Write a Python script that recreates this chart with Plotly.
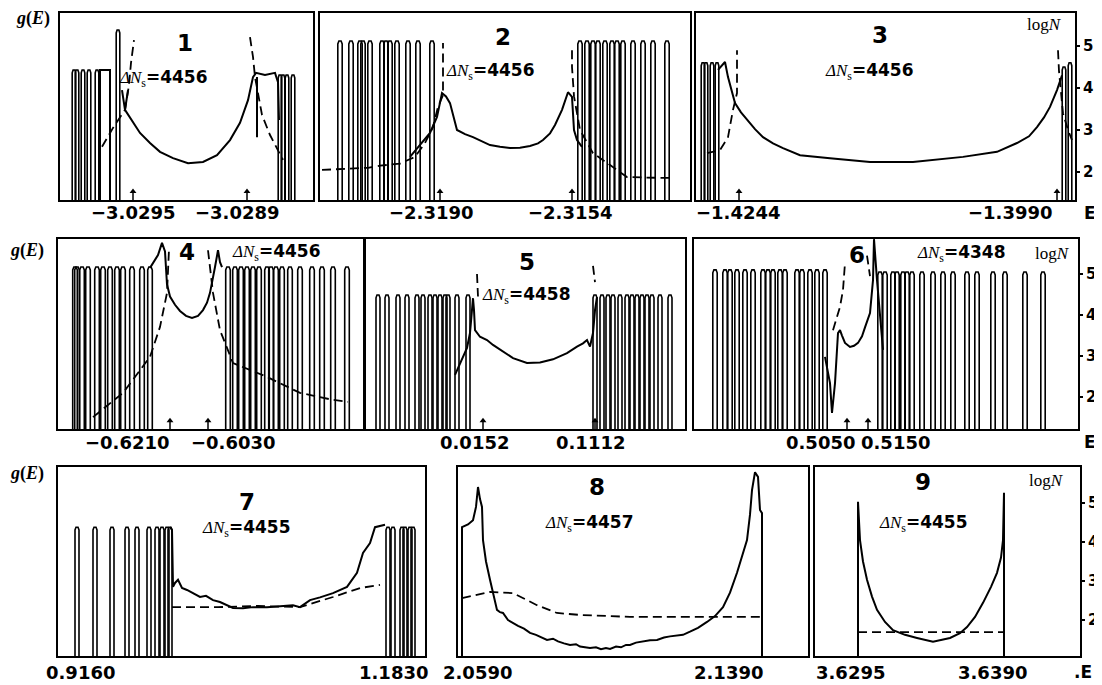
import plotly.graph_objects as go

W, H = 1102, 685
PAGE_OFF = 8  # default page margin of the html body

# ---------------- data (x: channel units measured from each panel's left edge, y: log N) -------------
# panel 1
p1_spk_x = [14, 17, 23, 29, 37, 58, 220, 223, 227, 233]
p1_spk_h = [4.43, 4.43, 4.43, 4.43, 4.43, 5.38, 4.31, 4.31, 4.31, 4.31]
p1_sol_x = [40, 40, 50, 50, None, 62, 65, 68, None,
            65, 73, 80, 90, 100, 113, 128, 143, 157, 170, 180, 188, 193, 196, 205, 215, 218, 219, None, 197, 197]
p1_sol_y = [1.0, 4.43, 4.43, 1.0, None, 3.95, 3.48, 3.95, None,
            3.48, 3.17, 2.93, 2.69, 2.48, 2.33, 2.21, 2.24, 2.4, 2.76, 3.17, 3.71, 4.26, 4.36, 4.31, 4.36, 4.14, 3.24, None, 2.83, 4.26]
p1_dsh_x = [42, 53, 65, 69, 71, 74, None, 190, 193, 195, 198, 202, 210, 223]
p1_dsh_y = [2.6, 3.05, 3.48, 4.07, 4.6, 5.14, None, 5.21, 4.74, 4.26, 3.83, 3.36, 2.88, 2.29]
p1_arrows = [73, 187]
p1_lab_x = [73, 177]
p1_labels = ["\u22123.0295", "\u22123.0289"]

# panel 2
p2_spk_x = [20, 31, 40, 43, 50, 62, 66, 70, 77, 88, 98, 112,
            260, 267, 273, 278, 285, 292, 297, 303, 313, 323, 333, 347]
p2_spk_h = [5.12] * 24
p2_sol_x = [90, 102, 110, 117, 122, 126, 130, 137, 145, 153, 162, 170, 180, 190, 200, 210, 218, 223, 230, 235, 242, 248, 252, 254, 257, 262]
p2_sol_y = [2.36, 2.69, 2.93, 3.31, 3.88, 3.8, 3.64, 3.0, 2.9, 2.83, 2.72, 2.64, 2.6, 2.57, 2.58, 2.62, 2.68, 2.76, 2.92, 3.12, 3.48, 3.9, 3.79, 3.0, 2.76, 2.6]
p2_dsh_x = [2, 48, 60, 80, 95, 105, 113, 118, 123, 123, 123, None, 252, 252, 254, 260, 273, 293, 307, 340, 350]
p2_dsh_y = [2.05, 2.1, 2.15, 2.2, 2.36, 2.69, 3.07, 3.55, 3.83, 4.4, 5.07, None, 4.9, 4.5, 3.8, 3.0, 2.45, 2.12, 1.88, 1.86, 1.86]
p2_arrows = [120, 252]
p2_lab_x = [112, 250]
p2_labels = ["\u22122.3190", "\u22122.3154"]

# panel 3
p3_spk_x = [7, 10, 16, 21, 368, 374]
p3_spk_h = [4.6, 4.6, 4.6, 4.6, 4.5, 4.6]
p3_sol_x = [22, 29, 32, 39, 45, 51, 59, 67, 77, 87, 104, 134, 174, 217, 267, 301, 321, 333, 341, 348, 354, 361, 364, 366]
p3_sol_y = [4.43, 4.62, 4.26, 3.64, 3.42, 3.24, 3.02, 2.83, 2.68, 2.57, 2.4, 2.33, 2.24, 2.24, 2.36, 2.48, 2.69, 2.85, 3.07, 3.3, 3.55, 3.95, 4.19, 4.3]
p3_dsh_x = [11, 24, 32, 37, 41, 41, None, 362, 363, 365, 367, 372, 376]
p3_dsh_y = [2.45, 2.52, 2.83, 3.48, 3.88, 4.9, None, 4.9, 4.4, 3.9, 3.4, 3.0, 2.76]
p3_arrows = [43, 361]
p3_lab_x = [42, 314]
p3_labels = ["\u22121.4244", "\u22121.3990"]

# panel 4
p4_spk_x = [17, 19, 24, 30, 39, 45, 52, 59, 65, 74, 84, 92,
            170, 177, 183, 189, 195, 201, 209, 213, 218, 224, 232, 242, 254, 264, 275, 289]
p4_spk_h = [5.17] * 28
p4_sol_x = [92, 100, 104, 107, 109, 112, 117, 122, 128, 134, 140, 145, 149, 152, 157, 159, 160, 162, 164]
p4_sol_y = [5.15, 5.46, 5.76, 5.55, 4.75, 4.45, 4.25, 4.1, 3.98, 3.93, 3.98, 4.12, 4.3, 4.54, 5.17, 5.51, 5.58, 5.29, 5.17]
p4_dsh_x = [35, 65, 92, 102, 109, 110, 111, None, 150, 155, 162, 175, 209, 242, 275, 290]
p4_dsh_y = [1.51, 2.1, 2.98, 3.71, 4.54, 5.17, 5.6, None, 5.58, 4.54, 3.63, 2.83, 2.49, 2.1, 1.93, 1.88]
p4_arrows = [112, 150]
p4_lab_x = [69, 175]
p4_labels = ["\u22120.6210", "\u22120.6030"]

# panel 5
p5_spk_x = [12, 21, 32, 41, 51, 57, 64, 69, 74, 79, 82, 91, 102,
            229, 236, 242, 247, 254, 261, 266, 271, 276, 281, 286, 294, 304]
p5_spk_h = [4.49] * 26
p5_sol_x = [89, 94, 101, 104, 106, 107, 108, 109, 114, 121, 127, 137, 147, 161, 174, 187, 201, 211, 217, 221, 224, 227, 229, 231]
p5_sol_y = [2.54, 2.83, 3.2, 3.56, 4.12, 4.41, 4.12, 3.63, 3.47, 3.39, 3.27, 3.1, 2.95, 2.83, 2.84, 2.92, 3.07, 3.23, 3.31, 3.39, 3.23, 3.56, 4.12, 4.44]
p5_dsh_x = [111, 112, None, 227, 229]
p5_dsh_y = [5.0, 4.45, None, 5.2, 4.8]
p5_arrows = [117, 229]
p5_lab_x = [108, 224]
p5_labels = ["0.0152", "0.1112"]

# panel 6
p6_spk_x = [21, 31, 36, 43, 51, 59, 69, 74, 79, 86, 91, 103, 108, 116, 123, 131,
            186, 191, 199, 203, 209, 213, 218, 228, 239, 249, 259, 273, 283, 299, 311, 331, 349]
p6_spk_h = [5.1] * 16 + [5.05] * 17
p6_sol_x = [131, 136, 138, 141, 144, 146, 148, 151, 156, 160, 164, 168, 171, 176, 179, 180, 183, 186, 189]
p6_sol_y = [2.98, 2.34, 1.61, 2.34, 3.56, 3.63, 3.5, 3.32, 3.22, 3.25, 3.32, 3.48, 3.7, 4.05, 4.85, 5.85, 4.85, 3.95, 3.15]
p6_dsh_x = [139, 146, 149, 151, None, 173, 176]
p6_dsh_y = [3.63, 4.2, 4.61, 5.27, None, 5.45, 4.95]
p6_arrows = [153, 174]
p6_lab_x = [126, 201]
p6_labels = ["0.5050", "0.5150"]

# panel 7
p7_spk_x = [19, 37, 54, 69, 79, 91, 99, 104, 109, 112, 330, 335, 344, 347, 352, 355]
p7_spk_h = [4.38] * 16
p7_sol_x = [112, 114, 115, 117, 120, 124, 129, 135, 142, 148, 155, 162, 168, 175, 185, 195, 209, 222, 235, 242, 252, 262, 275, 289, 299, 305, 312, 317, 327]
p7_sol_y = [4.38, 4.31, 2.85, 2.95, 3.03, 2.82, 2.77, 2.69, 2.59, 2.62, 2.51, 2.46, 2.4, 2.31, 2.3, 2.33, 2.33, 2.36, 2.38, 2.33, 2.51, 2.58, 2.69, 2.85, 3.21, 3.72, 3.97, 4.38, 4.44]
p7_dsh_x = [114, 160, 200, 242, 275, 302, 322]
p7_dsh_y = [2.33, 2.33, 2.36, 2.33, 2.59, 2.82, 2.9]
p7_arrows = []
p7_lab_x = [22, 335]
p7_labels = ["0.9160", "1.1830"]

# panel 8
p8_spk_x = []
p8_spk_h = []
p8_sol_x = [4, 4, 10, 15, 18, 20, 22, 24, 25, 28, 32, 36, 39, 42, 45, 50, 55, 60, 66, 72, 78, 84, 89, 95, 100, 106,
            112, 118, 122, 127, 132, 138, 143, 148, 152, 158, 163, 168, 172, 178, 185, 192, 199, 206, 212, 219, 225,
            232, 240, 249, 257, 265, 272, 279, 285, 289, 292, 294, 297, 300, 302, 304, 304]
p8_sol_y = [0.9, 4.38, 4.45, 4.56, 4.9, 5.41, 5.1, 4.9, 4.05, 3.5, 3.03, 2.6, 2.26, 2.2, 2.18, 2.0, 1.92, 1.85, 1.78, 1.67, 1.62, 1.55, 1.49, 1.52, 1.45, 1.4,
            1.36, 1.38, 1.32, 1.3, 1.28, 1.3, 1.25, 1.28, 1.26, 1.32, 1.3, 1.36, 1.36, 1.42, 1.45, 1.48, 1.49, 1.55, 1.58, 1.6, 1.62,
            1.7, 1.8, 1.95, 2.1, 2.33, 2.7, 3.21, 3.7, 4.05, 4.7, 5.33, 5.79, 5.67, 4.82, 4.74, 0.9]
p8_dsh_x = [4, 32, 55, 79, 99, 122, 172, 302]
p8_dsh_y = [2.56, 2.72, 2.69, 2.38, 2.18, 2.13, 2.08, 2.08]
p8_arrows = []
p8_lab_x = [19, 270]
p8_labels = ["2.0590", "2.1390"]

# panel 9
p9_spk_x = []
p9_spk_h = []
p9_sol_x = [43, 43, 45, 48, 52, 57, 62, 70, 78, 90, 102, 118, 135, 145, 152, 160, 168, 176, 182, 186, 188, 189, 189]
p9_sol_y = [0.9, 5.03, 4.05, 3.5, 3.03, 2.6, 2.26, 1.95, 1.74, 1.62, 1.54, 1.44, 1.54, 1.66, 1.82, 2.08, 2.44, 2.85, 3.21, 3.6, 4.05, 5.26, 0.9]
p9_dsh_x = [43, 188]
p9_dsh_y = [1.69, 1.69]
p9_arrows = []
p9_lab_x = [35, 177]
p9_labels = ["3.6295", "3.6390"]

panel_numbers = ["1", "2", "3", "4", "5", "6", "7", "8", "9"]
delta_ns = ["4456", "4456", "4456", "4456", "4458", "4348", "4455", "4457", "4455"]
log_ticks = [2, 3, 4, 5]

# ---------------- layout geometry (pixels in the window) ----------------
rows = [dict(top=13, bottom=200, yr=[1.333, 5.786], lab_y=213),
        dict(top=239, bottom=429, yr=[1.22, 5.854], lab_y=442),
        dict(top=467, bottom=656, yr=[1.077, 5.923], lab_y=672)]

geo = [  # L, R, row, spike half width, title pos, delta pos (left,center-y)
    (60, 313, 0, 1.8, (185, 43), (117, 78)),
    (320, 690, 0, 2.2, (503, 37), (444, 72)),
    (696, 1075, 0, 1.8, (880, 35), (823, 72)),
    (58, 363, 1, 2.3, (187, 252), (230, 252)),
    (366, 685, 1, 2.0, (527, 262), (480, 295)),
    (694, 1078, 1, 2.2, (857, 255), (915, 253)),
    (58, 425, 2, 2.0, (247, 502), (200, 528)),
    (458, 808, 2, 2.0, (597, 487), (543, 523)),
    (815, 1080, 2, 2.0, (923, 482), (877, 523)),
]

data = [
    (p1_spk_x, p1_spk_h, p1_sol_x, p1_sol_y, p1_dsh_x, p1_dsh_y, p1_arrows, p1_lab_x, p1_labels),
    (p2_spk_x, p2_spk_h, p2_sol_x, p2_sol_y, p2_dsh_x, p2_dsh_y, p2_arrows, p2_lab_x, p2_labels),
    (p3_spk_x, p3_spk_h, p3_sol_x, p3_sol_y, p3_dsh_x, p3_dsh_y, p3_arrows, p3_lab_x, p3_labels),
    (p4_spk_x, p4_spk_h, p4_sol_x, p4_sol_y, p4_dsh_x, p4_dsh_y, p4_arrows, p4_lab_x, p4_labels),
    (p5_spk_x, p5_spk_h, p5_sol_x, p5_sol_y, p5_dsh_x, p5_dsh_y, p5_arrows, p5_lab_x, p5_labels),
    (p6_spk_x, p6_spk_h, p6_sol_x, p6_sol_y, p6_dsh_x, p6_dsh_y, p6_arrows, p6_lab_x, p6_labels),
    (p7_spk_x, p7_spk_h, p7_sol_x, p7_sol_y, p7_dsh_x, p7_dsh_y, p7_arrows, p7_lab_x, p7_labels),
    (p8_spk_x, p8_spk_h, p8_sol_x, p8_sol_y, p8_dsh_x, p8_dsh_y, p8_arrows, p8_lab_x, p8_labels),
    (p9_spk_x, p9_spk_h, p9_sol_x, p9_sol_y, p9_dsh_x, p9_dsh_y, p9_arrows, p9_lab_x, p9_labels),
]

FW, FH = W - PAGE_OFF, H - PAGE_OFF


def pxx(px):
    return (px - PAGE_OFF) / FW


def pxy(py):
    return 1 - (py - PAGE_OFF) / FH


SANS = "DejaVu Sans"
SERIF = "Liberation Serif"

fig = go.Figure()
annotations = []
layout_axes = {}

for i, (g, d) in enumerate(zip(geo, data), start=1):
    L, R, ri, hw, tpos, dpos = g
    spk_x, spk_h, sx, sy, dx, dy, arrows, lab_x, labels = d
    row = rows[ri]
    xa = "x" if i == 1 else f"x{i}"
    ya = "y" if i == 1 else f"y{i}"

    # spikes as narrow outlined peaks
    kx, ky = [], []
    for x0, h in zip(spk_x, spk_h):
        kx += [x0 - hw, x0 - hw, x0 - hw * 0.5, x0 + hw * 0.5, x0 + hw, x0 + hw, None]
        ky += [0.5, h - 0.07, h, h, h - 0.07, 0.5, None]
    if kx:
        fig.add_trace(go.Scatter(x=kx, y=ky, mode="lines", xaxis=xa, yaxis=ya,
                                 line=dict(color="black", width=1.6), hoverinfo="skip", showlegend=False))
    fig.add_trace(go.Scatter(x=dx, y=dy, mode="lines", xaxis=xa, yaxis=ya,
                             line=dict(color="black", width=1.8, dash="9px,5px"), hoverinfo="skip", showlegend=False))
    fig.add_trace(go.Scatter(x=sx, y=sy, mode="lines", xaxis=xa, yaxis=ya,
                             line=dict(color="black", width=2.0), hoverinfo="skip", showlegend=False))

    # small upward arrows marking the band edges
    if arrows:
        y0 = row["yr"][0]
        ax_x, ax_y = [], []
        for a in arrows:
            ax_x += [a, a, None]
            ax_y += [y0, y0 + 0.2, None]
        fig.add_trace(go.Scatter(x=ax_x, y=ax_y, mode="lines", xaxis=xa, yaxis=ya,
                                 line=dict(color="black", width=1.5), hoverinfo="skip", showlegend=False))
        fig.add_trace(go.Scatter(x=arrows, y=[y0 + 0.2] * len(arrows), mode="markers", xaxis=xa, yaxis=ya,
                                 marker=dict(symbol="triangle-up", size=6, color="black"),
                                 hoverinfo="skip", showlegend=False))

    right = i in (3, 6, 9)
    layout_axes["xaxis" if i == 1 else f"xaxis{i}"] = dict(
        domain=[pxx(L), pxx(R)], range=[0, R - L], anchor=ya,
        showgrid=False, zeroline=False, showticklabels=False, ticks="",
        showline=True, mirror=True, linecolor="black", linewidth=2, fixedrange=True)
    ydict = dict(
        domain=[pxy(row["bottom"]), pxy(row["top"])], range=row["yr"], anchor=xa,
        showgrid=False, zeroline=False, showline=True, mirror=True,
        linecolor="black", linewidth=2, fixedrange=True)
    if right:
        ydict.update(side="right", tickvals=log_ticks, ticks="outside", ticklen=3, tickwidth=2,
                     tickcolor="black", showticklabels=True,
                     tickfont=dict(family=SANS, size=15, color="black", weight="bold"))
    else:
        ydict.update(showticklabels=False, ticks="")
    layout_axes["yaxis" if i == 1 else f"yaxis{i}"] = ydict

    # energy labels
    for lx, lt in zip(lab_x, labels):
        annotations.append(dict(x=lx, y=pxy(row["lab_y"]), xref=xa, yref="paper", text=lt,
                                showarrow=False, xanchor="center", yanchor="middle",
                                font=dict(family=SANS, size=18, color="black", weight="bold")))
    # panel number
    annotations.append(dict(x=pxx(tpos[0]), y=pxy(tpos[1]), xref="paper", yref="paper",
                            text=panel_numbers[i - 1], showarrow=False,
                            xanchor="center", yanchor="middle",
                            font=dict(family=SANS, size=23, color="black", weight="bold")))
    # delta N_s
    annotations.append(dict(x=pxx(dpos[0]), y=pxy(dpos[1]), xref="paper", yref="paper",
                            text=(f"<span style='font-family:{SERIF}'><i>\u0394N</i><sub>s</sub></span>"
                                  f"<b>=" + delta_ns[i - 1] + "</b>"),
                            showarrow=False, xanchor="left", yanchor="middle",
                            font=dict(family=SANS, size=17, color="black")))

# row labels
for (gx, gy) in [(33, 18), (27, 250), (27, 473)]:
    annotations.append(dict(x=pxx(gx), y=pxy(gy), xref="paper", yref="paper",
                            text="<b><i>g</i>(<i>E</i>)</b>", showarrow=False,
                            xanchor="center", yanchor="middle",
                            font=dict(family=SERIF, size=18, color="black")))
for (lx, ly) in [(1044, 25), (1052, 253), (1046, 480)]:
    annotations.append(dict(x=pxx(lx), y=pxy(ly), xref="paper", yref="paper",
                            text="log<i>N</i>", showarrow=False,
                            xanchor="center", yanchor="middle",
                            font=dict(family=SERIF, size=17, color="black")))
for (ex, ey, et) in [(1090, 213, "E"), (1090, 442, "E"), (1083, 672, ".E")]:
    annotations.append(dict(x=pxx(ex), y=pxy(ey), xref="paper", yref="paper",
                            text=et, showarrow=False,
                            xanchor="center", yanchor="middle",
                            font=dict(family=SANS, size=17, color="black", weight="bold")))

fig.update_layout(width=FW, height=FH, margin=dict(l=0, r=0, t=0, b=0),
                  paper_bgcolor="white", plot_bgcolor="white",
                  annotations=annotations, showlegend=False, **layout_axes)

fig.write_html("out.html")
